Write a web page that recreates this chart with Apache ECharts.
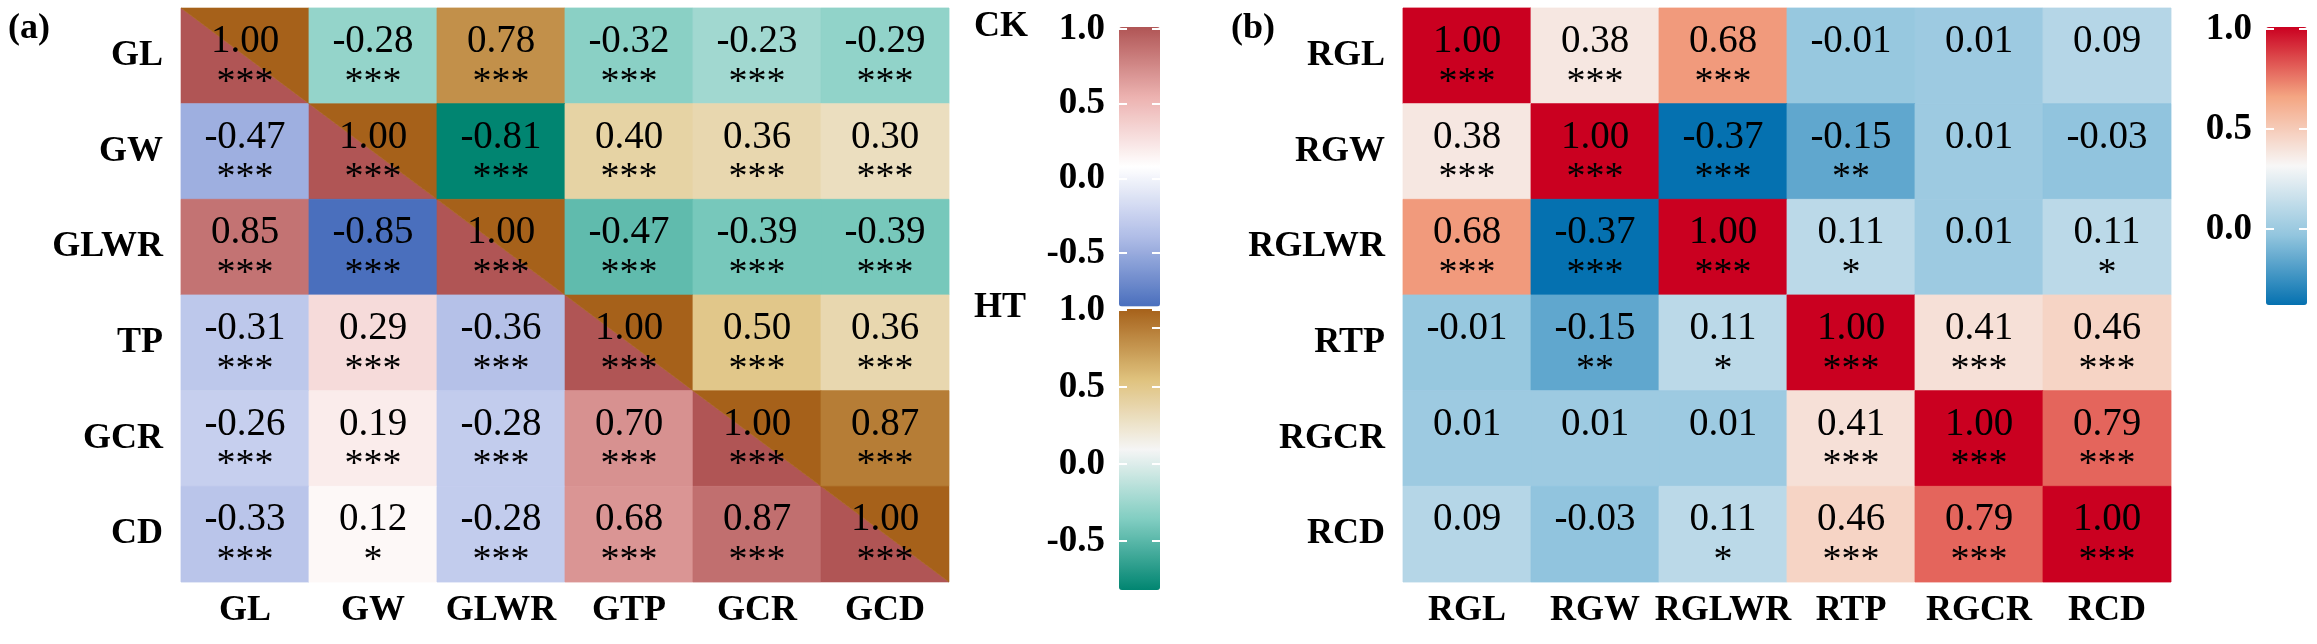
<!DOCTYPE html>
<html><head><meta charset="utf-8">
<script src="https://cdn.jsdelivr.net/npm/echarts@6/dist/echarts.min.js"></script>
<style>html,body{margin:0;padding:0;background:#fff}#c{width:2317px;height:644px}</style>
</head><body><div id="c"></div>
<script>
// ---------- DATA ----------
// Panel (a): lower triangle (incl. diagonal) = CK, upper triangle (incl. diagonal) = HT
const xLabelsA = ['GL', 'GW', 'GLWR', 'GTP', 'GCR', 'GCD'];
const yLabelsA = ['GL', 'GW', 'GLWR', 'TP', 'GCR', 'CD'];
const valuesA = [
  [1.00, -0.28, 0.78, -0.32, -0.23, -0.29],
  [-0.47, 1.00, -0.81, 0.40, 0.36, 0.30],
  [0.85, -0.85, 1.00, -0.47, -0.39, -0.39],
  [-0.31, 0.29, -0.36, 1.00, 0.50, 0.36],
  [-0.26, 0.19, -0.28, 0.70, 1.00, 0.87],
  [-0.33, 0.12, -0.28, 0.68, 0.87, 1.00]
];
const sigA = [
  ['***', '***', '***', '***', '***', '***'],
  ['***', '***', '***', '***', '***', '***'],
  ['***', '***', '***', '***', '***', '***'],
  ['***', '***', '***', '***', '***', '***'],
  ['***', '***', '***', '***', '***', '***'],
  ['***', '*', '***', '***', '***', '***']
];
const ckRange = [-0.85, 1.0];
const htRange = [-0.81, 1.0];

// Panel (b)
const xLabelsB = ['RGL', 'RGW', 'RGLWR', 'RTP', 'RGCR', 'RCD'];
const yLabelsB = ['RGL', 'RGW', 'RGLWR', 'RTP', 'RGCR', 'RCD'];
const valuesB = [
  [1.00, 0.38, 0.68, -0.01, 0.01, 0.09],
  [0.38, 1.00, -0.37, -0.15, 0.01, -0.03],
  [0.68, -0.37, 1.00, 0.11, 0.01, 0.11],
  [-0.01, -0.15, 0.11, 1.00, 0.41, 0.46],
  [0.01, 0.01, 0.01, 0.41, 1.00, 0.79],
  [0.09, -0.03, 0.11, 0.46, 0.79, 1.00]
];
const sigB = [
  ['***', '***', '***', '', '', ''],
  ['***', '***', '***', '**', '', ''],
  ['***', '***', '***', '*', '', '*'],
  ['', '**', '*', '***', '***', '***'],
  ['', '', '', '***', '***', '***'],
  ['', '', '*', '***', '***', '***']
];
const bRange = [-0.37, 1.0];

const colorbarTicks = [-1, -0.5, 0, 0.5, 1];

// ---------- STYLE ----------
const FONT = 'Liberation Serif';
const ckColors = ['#4A6FBD', '#B0BDE7', '#FFFFFF', '#ECB2B0', '#B05555'];
const htColors = ['#018571', '#80CDC1', '#F5F5F5', '#DFC27D', '#A6611A'];
const bColors = ['#0571B0', '#92C5DE', '#F7F7F7', '#F4A582', '#CA0020'];

// ---------- BUILD ----------
function cells(values, keep) {
  const out = [];
  for (let i = 0; i < values.length; i++)
    for (let j = 0; j < values[i].length; j++)
      if (keep(i, j)) out.push([j, i, values[i][j]]);
  return out;
}
const ckData = cells(valuesA, (i, j) => i >= j);
const htData = cells(valuesA, (i, j) => i <= j);
const bData = cells(valuesB, () => true);

function makeRender(data, sig, mode, diagText) {
  return function (params, api) {
    const d = data[params.dataIndex];
    const xi = d[0], yi = d[1], v = d[2];
    const c = api.coord([xi, yi]);
    const s = api.size([1, 1]);
    const x0 = c[0] - s[0] / 2, y0 = c[1] - s[1] / 2, w = s[0], h = s[1];
    const color = api.visual('color');
    const diag = xi === yi;
    const children = [];
    if (diag && mode === 'lower') {
      children.push({type: 'polygon', shape: {points: [[x0, y0], [x0, y0 + h], [x0 + w, y0 + h]]},
        style: {fill: color, stroke: color, lineWidth: 0.6}});
    } else if (diag && mode === 'upper') {
      children.push({type: 'polygon', shape: {points: [[x0, y0], [x0 + w, y0], [x0 + w, y0 + h]]},
        style: {fill: color, stroke: color, lineWidth: 0.6}});
    } else {
      children.push({type: 'rect', shape: {x: x0, y: y0, width: w, height: h},
        style: {fill: color, stroke: color, lineWidth: 0.8}});
    }
    if (!diag || diagText) {
      children.push({type: 'text', style: {text: v.toFixed(2), x: c[0], y: c[1] - 14,
        align: 'center', verticalAlign: 'middle', fill: '#000',
        fontSize: 39, fontFamily: FONT, fontWeight: 'normal'}});
      const st = sig[yi][xi];
      if (st) children.push({type: 'text', style: {text: st, x: c[0], y: c[1] + 27,
        align: 'center', verticalAlign: 'middle', fill: '#000',
        fontSize: 38, fontFamily: FONT, fontWeight: 'normal'}});
    }
    return {type: 'group', children: children};
  };
}

const boldLabel = {fontSize: 36, fontWeight: 'bold', fontFamily: FONT, color: '#000'};

function catX(grid, labels) {
  return {gridIndex: grid, type: 'category', data: labels, position: 'bottom',
    axisLine: {show: false}, axisTick: {show: false}, splitLine: {show: false},
    axisLabel: Object.assign({margin: 11, lineHeight: 36, interval: 0}, boldLabel)};
}
function catY(grid, labels) {
  return {gridIndex: grid, type: 'category', data: labels, inverse: true,
    axisLine: {show: false}, axisTick: {show: false}, splitLine: {show: false},
    axisLabel: Object.assign({margin: 18, interval: 0}, boldLabel)};
}
function barAxis(grid, min, side) {
  return {gridIndex: grid, type: 'value', min: min, max: colorbarTicks[colorbarTicks.length - 1],
    interval: 0.5, position: side, z: 10,
    axisLine: {show: false}, splitLine: {show: false},
    axisTick: {show: true, inside: true, length: 8, lineStyle: {color: '#fff', width: 2}},
    axisLabel: side === 'left'
      ? Object.assign({margin: 14, showMinLabel: false, formatter: v => v.toFixed(1)}, boldLabel, {fontSize: 37})
      : {show: false}};
}
function hiddenX(grid) { return {gridIndex: grid, type: 'value', show: false, min: 0, max: 1}; }

const option = {
  animation: false,
  backgroundColor: '#fff',
  textStyle: {fontFamily: FONT},
  title: [
    {text: '(a)', left: 8, top: 11, padding: 0, textStyle: boldLabel},
    {text: '(b)', left: 1231, top: 11, padding: 0, textStyle: boldLabel},
    {text: 'CK', left: 974, top: 9, padding: 0, textStyle: boldLabel},
    {text: 'HT', left: 974, top: 290, padding: 0, textStyle: boldLabel}
  ],
  grid: [
    {left: 181, top: 8, width: 768, height: 574},
    {left: 1403, top: 8, width: 768, height: 574},
    {left: 1119, top: 29, width: 41, height: 298.6},
    {left: 1119, top: 310, width: 41, height: 308},
    {left: 2266, top: 29, width: 41, height: 300}
  ],
  xAxis: [catX(0, xLabelsA), catX(1, xLabelsB), hiddenX(2), hiddenX(3), hiddenX(4)],
  yAxis: [catY(0, yLabelsA), catY(1, yLabelsB),
    barAxis(2, colorbarTicks[0], 'left'), barAxis(2, colorbarTicks[0], 'right'),
    barAxis(3, colorbarTicks[0], 'left'), barAxis(3, colorbarTicks[0], 'right'),
    barAxis(4, colorbarTicks[1], 'left'), barAxis(4, colorbarTicks[1], 'right')],
  visualMap: [
    {type: 'continuous', seriesIndex: 0, dimension: 2, min: ckRange[0], max: ckRange[1],
      inRange: {color: ckColors}, calculable: false, hoverLink: false, padding: 0,
      left: 1119, top: 27, itemWidth: 41, itemHeight: 279.5, orient: 'vertical'},
    {type: 'continuous', seriesIndex: 1, dimension: 2, min: htRange[0], max: htRange[1],
      inRange: {color: htColors}, calculable: false, hoverLink: false, padding: 0,
      left: 1119, top: 309, itemWidth: 41, itemHeight: 281, orient: 'vertical'},
    {type: 'continuous', seriesIndex: 2, dimension: 2, min: bRange[0], max: bRange[1],
      inRange: {color: bColors}, calculable: false, hoverLink: false, padding: 0,
      left: 2266, top: 27, itemWidth: 41, itemHeight: 278, orient: 'vertical'}
  ],
  series: [
    {type: 'custom', xAxisIndex: 0, yAxisIndex: 0, data: ckData, encode: {x: 0, y: 1},
      dimensions: ['x', 'y', 'v'], renderItem: makeRender(ckData, sigA, 'lower', false)},
    {type: 'custom', xAxisIndex: 0, yAxisIndex: 0, data: htData, encode: {x: 0, y: 1},
      dimensions: ['x', 'y', 'v'], renderItem: makeRender(htData, sigA, 'upper', true)},
    {type: 'custom', xAxisIndex: 1, yAxisIndex: 1, data: bData, encode: {x: 0, y: 1},
      dimensions: ['x', 'y', 'v'], renderItem: makeRender(bData, sigB, 'full', true)}
  ]
};

const chart = echarts.init(document.getElementById('c'), null, {renderer: 'canvas'});
chart.setOption(option);
</script>
</body></html>
